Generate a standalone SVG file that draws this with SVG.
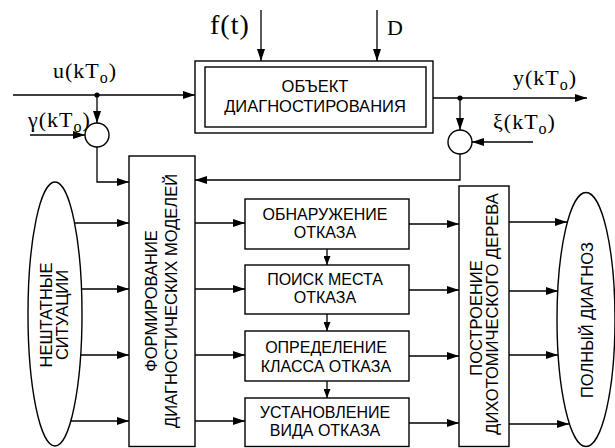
<svg xmlns="http://www.w3.org/2000/svg" width="615" height="448" viewBox="0 0 615 448">
<defs>
<marker id="ah" markerUnits="userSpaceOnUse" markerWidth="12" markerHeight="8" refX="12" refY="4" orient="auto"><path d="M0,0 L12,4 L0,8 z" fill="#000"/></marker>
<marker id="ahs" markerUnits="userSpaceOnUse" markerWidth="9" markerHeight="7" refX="9" refY="3.5" orient="auto"><path d="M0,0 L9,3.5 L0,7 z" fill="#000"/></marker>
</defs>
<style>
.ln{stroke:#000;stroke-width:1.3;fill:none}
.a{marker-end:url(#ah)}
.as{marker-end:url(#ahs)}
.box{fill:#fff;stroke:#000;stroke-width:1.4}
.t{font-family:"Liberation Sans",Arial,sans-serif;font-size:16px;text-anchor:middle;fill:#000}
.v{font-family:"Liberation Sans",Arial,sans-serif;font-size:16.5px;text-anchor:middle;fill:#000}
.m{font-family:"Liberation Serif","Times New Roman",serif;font-size:22px;fill:#000;letter-spacing:1px}
.sub{font-size:16px}
</style>

<g id="connectors">
<line class="ln a" x1="261" y1="10" x2="261" y2="61"/>
<line class="ln a" x1="377" y1="10" x2="377" y2="61"/>
<line class="ln a" x1="13" y1="95" x2="195" y2="95"/>
<line class="ln a" x1="97" y1="95" x2="97" y2="123"/>
<line class="ln a" x1="30" y1="135" x2="85" y2="135"/>
<polyline class="ln a" points="97,147 97,182 129,182"/>
<line class="ln a" x1="433" y1="98" x2="587" y2="98"/>
<line class="ln a" x1="460" y1="98" x2="460" y2="130"/>
<line class="ln a" x1="533" y1="142" x2="472" y2="142"/>
<polyline class="ln a" points="460,154 460,180 195,180"/>
<circle cx="97" cy="95" r="2.6" fill="#000"/>
<circle cx="460" cy="98" r="2.6" fill="#000"/>

<line class="ln a" x1="74" y1="223" x2="129" y2="223"/>
<line class="ln a" x1="81" y1="289" x2="129" y2="289"/>
<line class="ln a" x1="80" y1="355" x2="129" y2="355"/>
<line class="ln a" x1="70" y1="421" x2="129" y2="421"/>

<line class="ln a" x1="195" y1="223" x2="245" y2="223"/>
<line class="ln a" x1="195" y1="289" x2="245" y2="289"/>
<line class="ln a" x1="195" y1="355" x2="245" y2="355"/>
<line class="ln a" x1="195" y1="421" x2="245" y2="421"/>

<line class="ln as" x1="327" y1="249" x2="327" y2="265"/>
<line class="ln as" x1="327" y1="314" x2="327" y2="331"/>
<line class="ln as" x1="327" y1="381" x2="327" y2="398"/>

<line class="ln a" x1="409" y1="224" x2="459" y2="224"/>
<line class="ln a" x1="409" y1="290" x2="459" y2="290"/>
<line class="ln a" x1="409" y1="356" x2="459" y2="356"/>
<line class="ln a" x1="409" y1="423" x2="459" y2="423"/>

<line class="ln a" x1="509" y1="222" x2="567" y2="222"/>
<line class="ln a" x1="509" y1="291" x2="558" y2="291"/>
<line class="ln a" x1="509" y1="355" x2="558" y2="355"/>
<line class="ln a" x1="509" y1="424" x2="569" y2="424"/>
</g>

<g id="labels">
<text class="m" x="210" y="34" style="font-size:28px">f(t)</text>
<text class="m" x="387" y="35">D</text>
<text class="m" x="53" y="78">u(kT<tspan class="sub" dy="5">o</tspan><tspan dy="-5">)</tspan></text>
<text class="m" x="28" y="127">γ(kT<tspan class="sub" dy="5">o</tspan><tspan dy="-5">)</tspan></text>
<text class="m" x="513" y="85">y(kT<tspan class="sub" dy="5">o</tspan><tspan dy="-5">)</tspan></text>
<text class="m" x="493" y="129">ξ(kT<tspan class="sub" dy="5">o</tspan><tspan dy="-5">)</tspan></text>
</g>

<g id="object">
<rect class="box" x="195" y="61" width="238" height="72"/>
<rect class="box" x="205" y="67" width="221" height="60"/>
<text class="v" x="315" y="92">ОБЪЕКТ</text>
<text class="v" x="315" y="112">ДИАГНОСТИРОВАНИЯ</text>
</g>

<g id="sum1"><circle class="box" cx="97" cy="135" r="12"/></g>
<g id="sum2"><circle class="box" cx="460" cy="142" r="12"/></g>

<g id="situations">
<ellipse class="box" cx="55" cy="314" rx="27" ry="132"/>
<text class="v" transform="translate(52,315) rotate(-90)">НЕШТАТНЫЕ</text>
<text class="v" transform="translate(68,315) rotate(-90)">СИТУАЦИИ</text>
</g>

<g id="formation">
<rect class="box" x="129" y="156" width="66" height="290.5"/>
<text class="v" transform="translate(157,301) rotate(-90)">ФОРМИРОВАНИЕ</text>
<text class="v" transform="translate(177,301) rotate(-90)">ДИАГНОСТИЧЕСКИХ МОДЕЛЕЙ</text>
</g>

<g id="detect">
<rect class="box" x="245" y="199" width="164" height="50"/>
<text class="t" x="325" y="220">ОБНАРУЖЕНИЕ</text>
<text class="t" x="325" y="238">ОТКАЗА</text>
</g>
<g id="locate">
<rect class="box" x="245" y="265" width="164" height="49"/>
<text class="t" x="325" y="285">ПОИСК МЕСТА</text>
<text class="t" x="325" y="303">ОТКАЗА</text>
</g>
<g id="classify">
<rect class="box" x="245" y="331" width="164" height="50"/>
<text class="t" x="326" y="353">ОПРЕДЕЛЕНИЕ</text>
<text class="t" x="326" y="372">КЛАССА ОТКАЗА</text>
</g>
<g id="kind">
<rect class="box" x="245" y="398" width="164" height="48.5"/>
<text class="t" x="325" y="418">УСТАНОВЛЕНИЕ</text>
<text class="t" x="325" y="436">ВИДА ОТКАЗА</text>
</g>

<g id="dichotomy">
<rect class="box" x="459" y="186" width="50" height="260.5"/>
<text class="v" transform="translate(482,318) rotate(-90)">ПОСТРОЕНИЕ</text>
<text class="v" transform="translate(498,314) rotate(-90)">ДИХОТОМИЧЕСКОГО ДЕРЕВА</text>
</g>

<g id="diagnosis">
<ellipse class="box" cx="586" cy="319.5" rx="29" ry="127"/>
<text class="v" transform="translate(593,320) rotate(-90)">ПОЛНЫЙ ДИАГНОЗ</text>
</g>
</svg>
